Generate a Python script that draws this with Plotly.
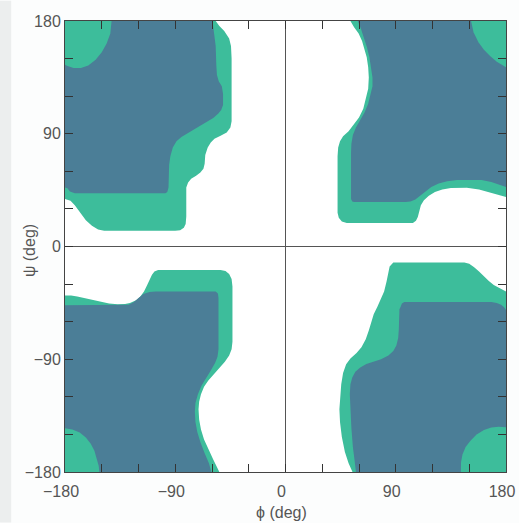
import plotly.graph_objects as go

# ---- region outlines (phi, psi in degrees) ----
# top-left quadrant
tl_outer_phi = [-190, -58, -57, -54, -50, -46, -44.5, -44, -44, -44, -45, -48, -53, -58, -61, -63.5, -65.5, -66, -67, -69.5, -73, -77, -79.5, -81, -81, -81.5, -83, -86, -90, -148, -153, -158, -163, -168, -172, -175.5, -180, -190]
tl_outer_psi = [190, 190, 180, 176, 172, 166, 160, 150, 120, 100, 95, 91, 88.5, 86, 83, 79, 73, 66, 62, 59, 56.5, 54, 51, 47, 24, 18, 15, 13, 12.6, 12.6, 13.5, 16.5, 21, 27.5, 33, 36.5, 38, 38]
tl_inner_phi = [-190, -60, -59.6, -58, -57, -56.5, -56, -54.5, -52, -51, -51, -52.5, -55, -59, -65, -72, -79, -85, -89, -92, -94, -95, -95.5, -96.5, -98, -172, -176, -178, -180, -190]
tl_inner_psi = [190, 190, 180, 170, 160, 145, 137, 132, 128, 122, 113, 109, 106, 102.5, 99, 95, 91, 87.5, 84, 79, 72, 65, 47, 43.5, 42.5, 42.5, 44, 46.5, 47, 47]
tl_spot_phi = [-190, -142, -142, -143, -146, -150, -155, -161, -167, -173, -178, -180, -190]
tl_spot_psi = [190, 190, 180, 170, 162, 155, 149, 144.5, 142.5, 142.5, 144, 145, 146]

# bottom-left quadrant
bl_outer_phi = [-190, -180, -175, -170, -160, -151, -144, -137, -131, -127, -122, -118.5, -115.5, -113, -111, -109, -107, -104, -53, -49, -46, -44, -43.3, -43.3, -44, -46, -49.5, -54, -59, -63, -66.5, -69, -70.5, -71, -70.5, -69, -66.5, -63, -59, -55.5, -54, -52, -190]
bl_outer_psi = [-38.7, -38.7, -39.2, -40, -42, -44, -45.5, -46, -45.8, -45, -43, -40, -36, -31, -26, -22.5, -20, -18.8, -18.8, -19.5, -22, -26, -32, -76, -82, -87, -92, -97, -102, -107, -112, -118, -124, -130, -138, -146, -154, -162, -170, -177, -180, -190, -190]
bl_inner_phi = [-190, -135, -128, -124, -120, -116, -111, -106, -57, -55.2, -54.7, -54.7, -55.5, -57.5, -61, -65, -68.5, -71.5, -73.5, -74, -73.5, -72, -69.5, -66, -62.5, -60.5, -59.5, -190]
bl_inner_psi = [-47, -47, -46.5, -44.5, -41, -38, -36.3, -36, -36, -37.5, -41, -82, -88, -93, -99, -105, -111, -118, -125, -132, -140, -148, -156, -165, -173, -180, -190, -190]
bl_spot_phi = [-190, -180, -174, -168, -163, -159, -156, -154, -152.5, -152, -152, -190]
bl_spot_psi = [-145, -145, -146, -148.5, -152.5, -157.5, -163, -169, -175, -180, -190, -190]

# top-right quadrant
tr_outer_phi = [52.5, 53, 56, 59.7, 62.5, 64.5, 66.3, 67.5, 68, 67.5, 66, 63.5, 60, 56, 51.5, 47, 44.5, 43, 42.5, 42.5, 43.5, 46, 50, 104, 106.5, 108, 109, 110.5, 113, 117, 122, 128, 135, 148, 158, 165, 172, 180, 190, 190]
tr_outer_psi = [190, 180, 175, 170, 164, 158, 151, 143, 135, 126, 119, 110, 103, 97.5, 92, 88, 84, 79, 72, 27, 23, 20, 18.8, 18.8, 20.5, 23.5, 28, 33, 37, 40.5, 43.5, 45.5, 46.6, 46.8, 45.5, 43.5, 41.5, 39.5, 39.5, 190]
tr_inner_phi = [58.5, 59, 61.5, 64, 66.5, 68.5, 70, 71, 71, 69.5, 67.5, 64.5, 61, 57.5, 55, 53.8, 53.5, 53.5, 54.5, 56, 98, 102, 106, 110, 114, 119, 125, 132, 140, 150, 160, 168, 174, 180, 190, 190]
tr_inner_psi = [190, 180, 174, 167, 159, 151, 143, 135, 128, 121, 114, 107, 101, 95, 89, 82, 75, 38, 36, 35.5, 35.5, 36, 37.5, 40.5, 44, 47.5, 50.3, 52, 53, 53.2, 53, 51.5, 49.5, 47.5, 47.5, 190]
tr_spot_phi = [150.5, 151.5, 153.5, 157.5, 162, 167, 172.5, 177, 180, 190, 190]
tr_spot_psi = [190, 180, 171, 163, 157, 152, 147.5, 144.5, 143, 142, 190]

# bottom-right quadrant
br_outer_phi = [88, 146, 150, 154, 158, 162, 166, 170, 175, 180, 190, 190, 52, 54.7, 51.5, 48.5, 46, 44.5, 44, 44.5, 45.5, 47, 49.5, 53, 58, 62, 65.5, 68, 70, 72, 75, 78, 80.5, 82.5, 83.8, 85, 88]
br_outer_psi = [-12.8, -12.8, -13.8, -16.5, -20, -24, -27.5, -30.8, -33.5, -36, -36, -190, -190, -180, -173, -164, -152, -140, -130, -119, -110, -101, -94, -89.5, -85, -80.5, -74, -67, -60, -54, -48, -42, -36, -28, -21, -16, -12.8]
br_inner_phi = [94, 95, 97, 168, 172.5, 176, 178.5, 180, 190, 190, 58, 57.5, 56.3, 55, 53.8, 53, 52.5, 53, 54.5, 57, 61, 66, 72, 78, 84, 88, 90.5, 92, 92.5, 92.5, 93, 94]
br_inner_psi = [-48, -45.5, -44.3, -44.3, -45, -46.5, -48.5, -50.7, -51, -190, -190, -180, -170, -160, -145, -130, -118, -110, -104.5, -100, -96.5, -93.8, -92, -90, -87, -83.5, -79, -73, -66, -53, -50, -48]
br_spot_phi = [190, 180, 174, 168, 162, 156, 151, 147, 144.5, 143.3, 143, 143, 190]
br_spot_psi = [-145, -144, -143.8, -144.5, -146.5, -150, -155, -160, -166, -172, -180, -190, -190]

# ticks
tick_vals = [-180, -150, -120, -90, -60, -30, 0, 30, 60, 90, 120, 150, 180]
tick_text = ["\u2212180", "", "", "\u221290", "", "", "0", "", "", "90", "", "", "180"]
x_title = "\u03d5 (deg)"
y_title = "\u03c8 (deg)"

GREEN = "#3dbd9b"
BLUE = "#4b7e97"
FONT = "Liberation Sans, Arial, sans-serif"
TEXT = "#555555"

fig = go.Figure()


def region(phi, psi, color):
    fig.add_trace(go.Scatter(
        x=phi, y=psi, mode="lines", fill="toself", fillcolor=color,
        line=dict(width=0, color=color),
        hoverinfo="skip", showlegend=False))


for outer, inner, spot in [
    ((tl_outer_phi, tl_outer_psi), (tl_inner_phi, tl_inner_psi), (tl_spot_phi, tl_spot_psi)),
    ((bl_outer_phi, bl_outer_psi), (bl_inner_phi, bl_inner_psi), (bl_spot_phi, bl_spot_psi)),
    ((tr_outer_phi, tr_outer_psi), (tr_inner_phi, tr_inner_psi), (tr_spot_phi, tr_spot_psi)),
    ((br_outer_phi, br_outer_psi), (br_inner_phi, br_inner_psi), (br_spot_phi, br_spot_psi)),
]:
    region(*outer, GREEN)
    region(*inner, BLUE)
    region(*spot, GREEN)

axis_common = dict(
    range=[-180, 180], tickmode="array", tickvals=tick_vals, ticktext=tick_text,
    ticks="inside", ticklen=8, tickwidth=1.2, tickcolor="#333",
    showline=True, linecolor="#444", linewidth=1, mirror="ticks",
    showgrid=False, zeroline=True, zerolinecolor="#555", zerolinewidth=1,
    tickfont=dict(family=FONT, size=16, color=TEXT),
    ticklabeloverflow="allow", automargin=False,
    layer="above traces",
)

fig.update_layout(
    width=519, height=523,
    margin=dict(l=65, r=13, t=21, b=51),
    paper_bgcolor="#fcfdfd", plot_bgcolor="#ffffff",
    xaxis=dict(axis_common, ticklabelstandoff=5, ticklabelshift=-4),
    yaxis=dict(axis_common),
    annotations=[
        dict(text=x_title, xref="x", yref="paper", x=-3, y=-0.09,
             xanchor="center", yanchor="middle", showarrow=False,
             font=dict(family=FONT, size=16, color=TEXT)),
        dict(text=y_title, xref="paper", yref="y", x=-0.082, y=-3,
             xanchor="center", yanchor="middle", showarrow=False, textangle=-90,
             font=dict(family=FONT, size=16, color=TEXT)),
    ],
    shapes=[
        dict(type="rect", xref="paper", yref="paper", x0=-0.1473, x1=-0.122,
             y0=-0.112, y1=1.045, fillcolor="#eceeee", line=dict(width=0), layer="below"),
    ],
)

fig.write_html("out.html")
